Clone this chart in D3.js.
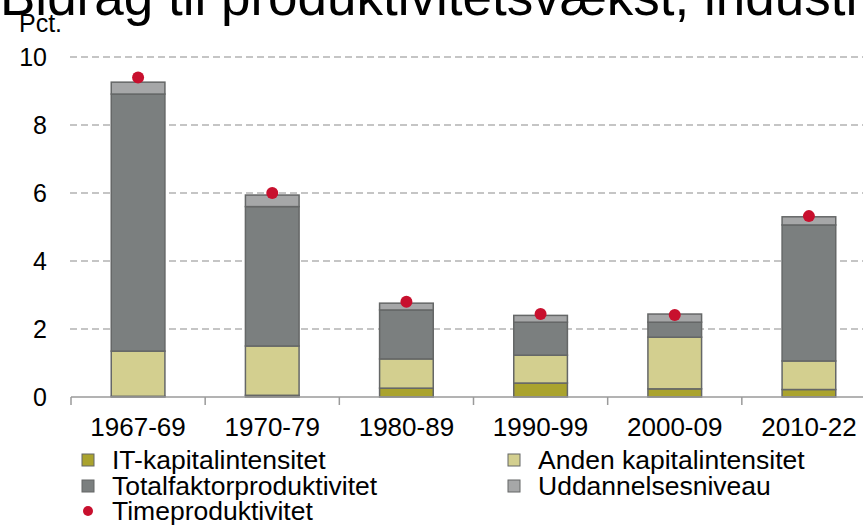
<!DOCTYPE html>
<html>
<head>
<meta charset="utf-8">
<script src="https://cdn.jsdelivr.net/npm/d3@7"></script>
<style>
  body { margin: 0; background: #fff; }
  svg { display: block; font-family: "Liberation Sans", Arial, sans-serif; }
</style>
</head>
<body>
<div id="chart"></div>
<script>
// data
var categories = ["1967-69", "1970-79", "1980-89", "1990-99", "2000-09", "2010-22"];
var itKapital = [0.02, 0.05, 0.26, 0.41, 0.24, 0.22];
var andenKapital = [1.33, 1.45, 0.86, 0.82, 1.52, 0.84];
var totalfaktor = [7.56, 4.1, 1.44, 0.97, 0.44, 4.0];
var uddannelse = [0.35, 0.34, 0.2, 0.2, 0.24, 0.24];
var timeprod = [9.4, 6.0, 2.8, 2.44, 2.41, 5.32];
var yTicks = [0, 2, 4, 6, 8, 10];

var seriesNames = ["IT-kapitalintensitet", "Anden kapitalintensitet", "Totalfaktorproduktivitet", "Uddannelsesniveau"];
var seriesColors = ["#aaa32e", "#d3cf8f", "#7b7f7f", "#a6a7a8"];

var width = 863, height = 525;

var svg = d3.select("#chart").append("svg")
    .attr("width", width).attr("height", height);

var xScale = d3.scaleBand().domain(categories).range([71, 876])
    .paddingInner(0.6).paddingOuter(0.3);
var yScale = d3.scaleLinear().domain([0, 10]).range([397, 57]);

// title, cut off at the top as in the original
svg.append("text").attr("x", 0).attr("y", 15)
    .style("font-size", "53px").style("fill", "#000")
    .text("Bidrag til produktivitetsvækst, industri");

svg.append("text").attr("x", 19).attr("y", 32)
    .style("font-size", "25px").style("fill", "#000")
    .text("Pct.");

// gridlines
svg.append("g").selectAll("line").data(yTicks.filter(function(d) { return d > 0; }))
  .enter().append("line")
    .attr("x1", 70).attr("x2", width)
    .attr("y1", function(d) { return yScale(d); })
    .attr("y2", function(d) { return yScale(d); })
    .attr("stroke", "#b3b3b3").attr("stroke-width", 1.5)
    .attr("stroke-dasharray", "7,4");

// y labels
var yAxisCall = d3.axisLeft(yScale).tickValues(yTicks).tickSize(0).tickPadding(0);
var yAxis = svg.append("g").attr("transform", "translate(47,0)").call(yAxisCall);
yAxis.select(".domain").remove();
yAxis.selectAll("text").style("font-size", "25px").style("fill", "#000")
    .style("font-family", "Liberation Sans, Arial, sans-serif");

// stacked bars
var rows = categories.map(function(c, i) {
  return { cat: c, s0: itKapital[i], s1: andenKapital[i], s2: totalfaktor[i], s3: uddannelse[i] };
});
var stack = d3.stack().keys(["s0", "s1", "s2", "s3"]);
var layers = stack(rows);

svg.append("g").selectAll("g").data(layers)
  .enter().append("g")
    .attr("fill", function(d, i) { return seriesColors[i]; })
  .selectAll("rect").data(function(d) { return d; })
  .enter().append("rect")
    .attr("x", function(d) { return xScale(d.data.cat); })
    .attr("width", xScale.bandwidth())
    .attr("y", function(d) { return yScale(d[1]); })
    .attr("height", function(d) { return yScale(d[0]) - yScale(d[1]); })
    .attr("stroke", "#656767").attr("stroke-width", 1.5);

// x axis
var step = xScale.step();
var xAxis = svg.append("g");
xAxis.append("line").attr("x1", 71).attr("x2", width)
    .attr("y1", 397).attr("y2", 397)
    .attr("stroke", "#9a9a9a").attr("stroke-width", 1.5);
xAxis.selectAll(".tick").data(d3.range(categories.length + 1))
  .enter().append("line")
    .attr("x1", function(i) { return 71 + i * step; })
    .attr("x2", function(i) { return 71 + i * step; })
    .attr("y1", 397).attr("y2", 405)
    .attr("stroke", "#9a9a9a").attr("stroke-width", 1.5);
xAxis.selectAll("text").data(categories)
  .enter().append("text")
    .attr("x", function(d) { return xScale(d) + xScale.bandwidth() / 2; })
    .attr("y", 436)
    .style("text-anchor", "middle").style("font-size", "26px").style("fill", "#000")
    .text(function(d) { return d; });

// dots for timeproduktivitet
svg.append("g").selectAll("circle").data(timeprod)
  .enter().append("circle")
    .attr("cx", function(d, i) { return xScale(categories[i]) + xScale.bandwidth() / 2; })
    .attr("cy", function(d) { return yScale(d); })
    .attr("r", 6)
    .attr("fill", "#c8102e");

// legend
var legendItems = [
  { name: seriesNames[0], color: seriesColors[0], x: 82, y: 460 },
  { name: seriesNames[1], color: seriesColors[1], x: 508, y: 460 },
  { name: seriesNames[2], color: seriesColors[2], x: 82, y: 486 },
  { name: seriesNames[3], color: seriesColors[3], x: 508, y: 486 }
];
var legend = svg.append("g");
legendItems.forEach(function(d) {
  legend.append("rect").attr("x", d.x).attr("y", d.y - 6)
      .attr("width", 12).attr("height", 12)
      .attr("fill", d.color).attr("stroke", "#656767").attr("stroke-width", 1);
  legend.append("text").attr("x", d.x + 30).attr("y", d.y + 9)
      .style("font-size", "26.5px").style("fill", "#000")
      .text(d.name);
});
legend.append("circle").attr("cx", 88).attr("cy", 511).attr("r", 5).attr("fill", "#c8102e");
legend.append("text").attr("x", 112).attr("y", 520)
    .style("font-size", "26.5px").style("fill", "#000")
    .text("Timeproduktivitet");
</script>
</body>
</html>
